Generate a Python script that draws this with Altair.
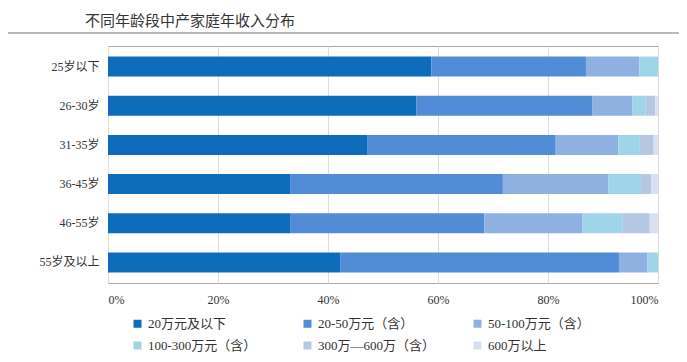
import altair as alt
import pandas as pd

ages = ["25岁以下", "26-30岁", "31-35岁", "36-45岁", "46-55岁", "55岁及以上"]
brackets = ["20万元及以下", "20-50万元（含）", "50-100万元（含）",
            "100-300万元（含）", "300万—600万（含）", "600万以上"]
colors = ["#0f6cbd", "#528cd6", "#8fb1e1", "#9fd4e9", "#b5c7e1", "#d9e0f1"]

v_le20 = [58.8, 56.1, 47.1, 33.1, 33.1, 42.2]
v_20_50 = [28.1, 32.0, 34.3, 38.7, 35.3, 50.7]
v_50_100 = [9.7, 7.2, 11.4, 19.2, 17.8, 5.2]
v_100_300 = [3.4, 2.4, 3.9, 5.9, 7.4, 1.9]
v_300_600 = [0.0, 1.8, 2.5, 1.9, 4.9, 0.0]
v_gt600 = [0.0, 0.5, 0.8, 1.2, 1.5, 0.0]

series = [v_le20, v_20_50, v_50_100, v_100_300, v_300_600, v_gt600]
rows = []
for bi, (b, vals) in enumerate(zip(brackets, series)):
    for a, v in zip(ages, vals):
        rows.append({"age": a, "bracket": b, "value": v, "order": bi})
df = pd.DataFrame(rows)

FONT = "Liberation Serif, Noto Sans CJK SC"

bars = alt.Chart(df).mark_bar().encode(
    x=alt.X("value:Q", stack="normalize",
            scale=alt.Scale(domain=[0, 1], nice=False),
            axis=alt.Axis(format=".0%", values=[0, 0.2, 0.4, 0.6, 0.8, 1.0],
                          title=None, domain=False, ticks=False, grid=True,
                          gridColor="#dcdcdc", labelFontSize=12, labelFont=FONT,
                          labelColor="#333", labelPadding=11)),
    y=alt.Y("age:N", sort=ages,
            scale=alt.Scale(paddingInner=0.49, paddingOuter=0.27),
            axis=alt.Axis(title=None, domain=False, ticks=False, labelFontSize=12,
                          labelFont=FONT, labelColor="#333", labelPadding=9)),
    color=alt.Color("bracket:N", scale=alt.Scale(domain=brackets, range=colors),
                    legend=alt.Legend(orient="none", legendX=23, legendY=271,
                                      direction="horizontal", columns=3, title=None,
                                      symbolType="square", symbolSize=64,
                                      symbolStrokeWidth=0, gridAlign="all",
                                      labelFontSize=13, labelFont=FONT,
                                      labelColor="#333", columnPadding=35,
                                      rowPadding=8, labelLimit=300)),
    order=alt.Order("order:Q"),
)

line_df = pd.DataFrame({"k": [0]})
rule = alt.Chart(line_df).mark_rule(color="#777", strokeWidth=1.2).encode(
    x=alt.value(-100), x2=alt.value(571), y=alt.value(-13)
)

chart = alt.layer(bars, rule).properties(
    width=550, height=237,
    title=alt.Title("不同年龄段中产家庭年收入分布", anchor="start", frame="group",
                    dx=-23, offset=3, fontSize=15, fontWeight="normal",
                    font="Noto Sans CJK SC", color="#333"),
    autosize=alt.AutoSizeParams(type="none"),
    padding={"left": 100, "top": 38, "right": 21, "bottom": 71},
).configure_view(stroke="#aaaaaa", strokeWidth=1)

chart.save("out.html", embed_options={"renderer": "svg", "actions": False})
